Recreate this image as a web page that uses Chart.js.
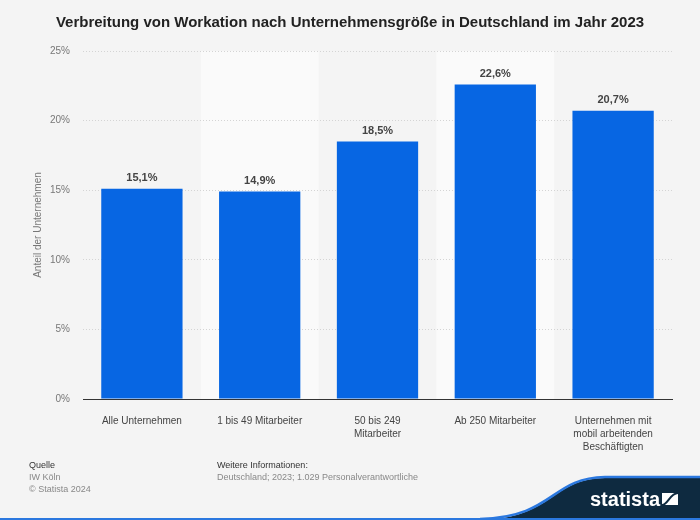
<!DOCTYPE html>
<html lang="de">
<head>
<meta charset="utf-8">
<script src="https://cdn.jsdelivr.net/npm/chart.js@4/dist/chart.umd.min.js"></script>
<style>
  html, body { margin: 0; padding: 0; background: #f4f4f4; }
  #wrap { width: 700px; height: 520px; position: relative; }
</style>
</head>
<body>
<div id="wrap"><canvas id="chart" width="700" height="520"></canvas></div>
<script>
// Daten
const categories = [
    'Alle Unternehmen',
    '1 bis 49 Mitarbeiter',
    ['50 bis 249', 'Mitarbeiter'],
    'Ab 250 Mitarbeiter',
    ['Unternehmen mit', 'mobil arbeitenden', 'Beschäftigten']
];
const shares = [15.1, 14.9, 18.5, 22.6, 20.7];
const yTicks = [0, 5, 10, 15, 20, 25];

const titleText = 'Verbreitung von Workation nach Unternehmensgröße in Deutschland im Jahr 2023';
const fontFamily = '"Liberation Sans", Arial, Helvetica, sans-serif';

// Hintergrund und helle Bänder hinter jeder zweiten Kategorie
const bandPlugin = {
    id: 'bands',
    beforeDraw(chart) {
        const { ctx, chartArea, scales } = chart;
        ctx.save();
        ctx.fillStyle = '#f4f4f4';
        ctx.fillRect(0, 0, chart.width, chart.height);
        const x = scales.x;
        const step = x.width / categories.length;
        ctx.fillStyle = '#fafafa';
        categories.forEach((c, i) => {
            if (i % 2 === 1) {
                const cx = x.getPixelForValue(i);
                ctx.fillRect(cx - step / 2, chartArea.top, step, chartArea.bottom - chartArea.top);
            }
        });
        ctx.restore();
    }
};

// Werte über den Balken
const labelPlugin = {
    id: 'valueLabels',
    afterDatasetsDraw(chart) {
        const { ctx } = chart;
        const meta = chart.getDatasetMeta(0);
        ctx.save();
        ctx.font = 'bold 11px ' + fontFamily;
        ctx.fillStyle = '#444';
        ctx.textAlign = 'center';
        ctx.textBaseline = 'bottom';
        meta.data.forEach((bar, i) => {
            ctx.fillText(shares[i].toFixed(1).replace('.', ',') + '%', bar.x, bar.y - 5);
        });
        ctx.restore();
    }
};

// Titel, Quelle und Logo
const framePlugin = {
    id: 'frame',
    afterDraw(chart) {
        const ctx = chart.ctx;
        ctx.save();

        ctx.font = 'bold 15px ' + fontFamily;
        ctx.fillStyle = '#222';
        ctx.textAlign = 'center';
        ctx.textBaseline = 'middle';
        ctx.fillText(titleText, 350, 23);

        ctx.textAlign = 'left';
        ctx.textBaseline = 'alphabetic';
        ctx.font = '9px ' + fontFamily;
        ctx.fillStyle = '#333';
        ctx.fillText('Quelle', 29, 468);
        ctx.fillText('Weitere Informationen:', 217, 468);
        ctx.fillStyle = '#888';
        ctx.fillText('IW Köln', 29, 480);
        ctx.fillText('© Statista 2024', 29, 492);
        ctx.fillText('Deutschland; 2023; 1.029 Personalverantwortliche', 217, 480);

        // Logo-Fläche
        ctx.beginPath();
        ctx.moveTo(480, 520);
        ctx.bezierCurveTo(555, 518, 550, 479, 605, 478);
        ctx.lineTo(700, 478);
        ctx.lineTo(700, 520);
        ctx.closePath();
        ctx.fillStyle = '#0e2a40';
        ctx.fill();
        ctx.beginPath();
        ctx.moveTo(480, 519);
        ctx.bezierCurveTo(555, 517, 550, 478, 605, 477);
        ctx.lineTo(700, 477);
        ctx.strokeStyle = '#2b78df';
        ctx.lineWidth = 2.5;
        ctx.stroke();
        ctx.fillStyle = '#2b78df';
        ctx.fillRect(0, 518, 700, 2);

        ctx.font = 'bold 20px ' + fontFamily;
        ctx.fillStyle = '#fff';
        ctx.fillText('statista', 590, 506);
        ctx.fillRect(662, 493, 16, 12);
        ctx.strokeStyle = '#0e2a40';
        ctx.lineWidth = 2;
        ctx.beginPath();
        ctx.moveTo(662, 505);
        ctx.bezierCurveTo(668, 505, 670, 493, 678, 493);
        ctx.stroke();

        ctx.restore();
    }
};

document.addEventListener('DOMContentLoaded', function() {
    const ctx = document.getElementById('chart').getContext('2d');
    new Chart(ctx, {
        type: 'bar',
        data: {
            labels: categories,
            datasets: [{
                data: shares,
                backgroundColor: '#0766e3',
                borderWidth: 0,
                barPercentage: 0.69,
                categoryPercentage: 1
            }]
        },
        options: {
            responsive: false,
            animation: false,
            devicePixelRatio: 1,
            layout: { padding: { top: 51, left: 32, right: 28, bottom: 60 } },
            plugins: {
                legend: { display: false },
                tooltip: { enabled: false }
            },
            scales: {
                x: {
                    grid: { display: false },
                    border: { display: true, color: '#333', width: 1 },
                    ticks: {
                        color: '#444',
                        font: { family: fontFamily, size: 10, lineHeight: 1.3 },
                        padding: 8,
                        maxRotation: 0,
                        autoSkip: false
                    },
                    afterFit(scale) { scale.height = 61; }
                },
                y: {
                    min: 0,
                    max: 25,
                    afterBuildTicks(scale) { scale.ticks = yTicks.map(v => ({ value: v })); },
                    grid: { color: '#d4d4d4', drawTicks: false },
                    border: { display: false, dash: [1, 2] },
                    ticks: {
                        color: '#777',
                        font: { family: fontFamily, size: 10 },
                        padding: 13,
                        callback: v => v + '%'
                    },
                    title: {
                        display: true,
                        text: 'Anteil der Unternehmen',
                        color: '#777',
                        font: { family: fontFamily, size: 10 },
                        padding: 0
                    },
                    afterFit(scale) { scale.width = 51; }
                }
            }
        },
        plugins: [bandPlugin, framePlugin, labelPlugin]
    });
});
</script>
</body>
</html>
